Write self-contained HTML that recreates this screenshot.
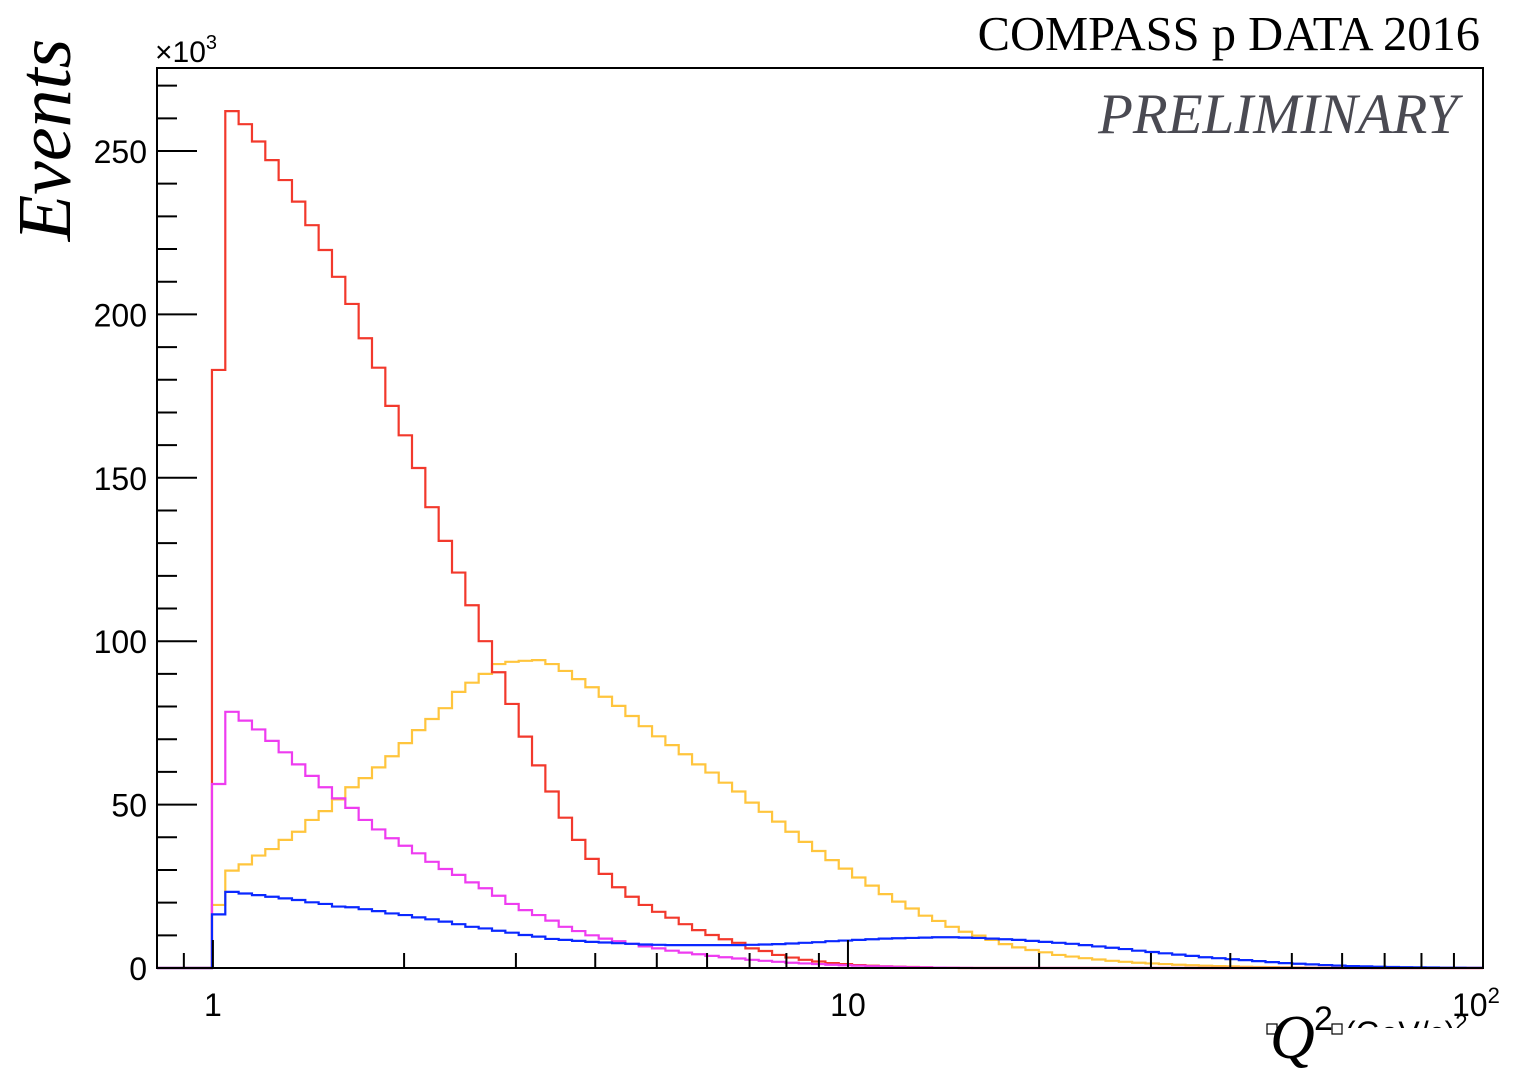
<!DOCTYPE html>
<html><head><meta charset="utf-8"><style>
html,body{margin:0;padding:0;background:#fff;}
svg{display:block;}
</style></head><body>
<svg id="chart" width="1528" height="1074" viewBox="0 0 1528 1074" xmlns="http://www.w3.org/2000/svg">
<rect x="0" y="0" width="1528" height="1074" fill="#fff"/>
<clipPath id="plotclip"><rect x="157" y="60" width="1326" height="910"/></clipPath>
<g id="series" clip-path="url(#plotclip)"></g>
<rect x="157" y="68" width="1326" height="900" fill="none" stroke="#000" stroke-width="2"/>
<g id="axes"></g>
<text x="1480" y="50" text-anchor="end" font-family="Liberation Serif, serif" font-size="48.5" fill="#000">COMPASS p DATA 2016</text>
<text x="1458" y="133" text-anchor="end" font-family="Liberation Serif, serif" font-style="italic" font-size="57" fill="#4a4a52">PRELIMINARY</text>
<text transform="translate(70,140) rotate(-90)" text-anchor="middle" font-family="Liberation Serif, serif" font-style="italic" font-size="76" fill="#000">Events</text>
<text x="155" y="62" font-family="Liberation Sans, sans-serif" font-size="30" fill="#000">×10<tspan dy="-13" font-size="20">3</tspan></text>
<g>
<rect x="1267" y="1024" width="10" height="10" fill="#fff" stroke="#000" stroke-width="1.2"/>
<rect x="1332" y="1024" width="10" height="10" fill="#fff" stroke="#000" stroke-width="1.2"/>
<text x="1270" y="1058" font-family="Liberation Serif, serif" font-style="italic" font-size="62" fill="#000">Q</text>
<text x="1314" y="1030" font-family="Liberation Sans, sans-serif" font-size="34" fill="#000">2</text>
<clipPath id="unitclip"><rect x="1340" y="990" width="150" height="38"/></clipPath>
<text x="1345" y="1044" clip-path="url(#unitclip)" font-family="Liberation Sans, sans-serif" font-size="32" fill="#000">(GeV/c)<tspan dy="-14" font-size="22">2</tspan></text>
</g>
</svg>
<script>
// bins: log10(Q2) edges start and width
const binStart = -0.0015;
const binWidth = 0.021;
const redValues = [183,262.2,258.2,252.9,247.2,241.1,234.5,227.3,219.7,211.5,203.2,192.7,183.7,172,163,153,141,130.7,121,111,100,90.5,80.8,70.8,62.0,54.0,46.0,39.2,33.4,28.8,24.7,21.8,19.3,17.2,15.4,13.4,11.6,10.1,8.8,7.7,6.0,5.2,4.0,3.2,2.5,2.0,1.5,1.2,0.9,0.7,0.5,0.4,0.3,0.2,0.1,0.05,0];
const magentaValues = [56.3,78.4,75.7,73.0,69.5,66.0,62.3,58.8,55.3,51.9,49.0,45.3,42.4,39.7,37.4,35.1,32.5,30.3,28.5,26.2,24.4,22.1,19.6,17.7,16.2,14.5,12.6,11.3,10.0,9.0,8.2,7.4,6.6,6.0,5.3,4.7,4.2,3.7,3.3,2.9,2.5,2.2,1.9,1.6,1.4,1.2,1.0,0.85,0.7,0.55,0.45,0.35,0.25,0.18,0.12,0.08,0.04,0];
const yellowValues = [19.3,29.8,31.7,34.4,36.4,39.2,41.7,45.3,48.0,51.6,55.3,58.1,61.4,64.8,68.8,72.8,76.2,79.5,84.5,87.3,90.0,93.0,93.7,94.0,94.2,93.0,90.9,88.4,85.9,83.0,80.2,77.1,74.0,70.9,68.2,65.4,62.3,59.8,56.7,54.0,50.6,47.8,44.8,41.7,38.6,35.8,33.0,30.4,27.7,25.2,22.6,20.3,18.2,16.0,14.4,12.6,11.1,9.9,8.6,7.3,6.3,5.5,4.8,4.0,3.5,3.0,2.6,2.2,1.9,1.6,1.4,1.2,1.0,0.85,0.7,0.6,0.5,0.4,0.33,0.27,0.2,0.15,0.1,0.08,0.05,0.03,0.02,0];
const blueValues = [16.4,23.3,22.8,22.3,21.8,21.3,20.8,20.1,19.6,18.8,18.6,18.0,17.4,16.7,16.2,15.5,14.9,14.2,13.4,12.6,12.1,11.4,10.8,10.1,9.6,8.9,8.6,8.3,8.0,7.8,7.6,7.4,7.2,7.1,7.0,7.0,7.0,7.0,7.0,7.0,7.1,7.2,7.3,7.5,7.7,7.9,8.2,8.4,8.6,8.8,9.0,9.1,9.2,9.3,9.4,9.4,9.3,9.2,9.0,8.8,8.6,8.3,8.0,7.7,7.4,7.0,6.6,6.2,5.8,5.3,4.9,4.5,4.1,3.7,3.3,3.0,2.7,2.4,2.1,1.8,1.5,1.3,1.1,0.9,0.75,0.6,0.5,0.4,0.3,0.25,0.2,0.15,0.1,0.08,0.05,0.03,0];
const yTicks = [0,50,100,150,200,250];
const yTickLabels = ["0","50","100","150","200","250"];
const xMajor = [1,10,100];
const xTickLabels = ["1","10",""];

const NS = "http://www.w3.org/2000/svg";
const plotL = 157, plotR = 1483, plotT = 68, plotB = 968;
const logMin = Math.log10(0.8165), logMax = 2;
function xScale(q){ return plotL + (Math.log10(q) - logMin) / (logMax - logMin) * (plotR - plotL); }
function xLog(l){ return plotL + (l - logMin) / (logMax - logMin) * (plotR - plotL); }
function yScale(v){ return plotB - v * 3.268; }

const seriesG = document.getElementById('series');
function drawHist(vals, color, name){
  let d = "M" + plotL + "," + yScale(0);
  let x0 = xLog(binStart);
  d += " L" + x0 + "," + yScale(0);
  for (let i = 0; i < vals.length; i++){
    const a = xLog(binStart + i*binWidth), b = xLog(binStart + (i+1)*binWidth);
    d += " L" + Math.min(a,plotR) + "," + yScale(vals[i]) + " L" + Math.min(b,plotR) + "," + yScale(vals[i]);
  }
  const end = xLog(binStart + vals.length*binWidth);
  d += " L" + Math.min(end,plotR) + "," + yScale(0) + " L" + plotR + "," + yScale(0);
  const p = document.createElementNS(NS, 'path');
  p.setAttribute('d', d);
  p.setAttribute('fill', 'none');
  p.setAttribute('stroke', color);
  p.setAttribute('stroke-width', '2.2');
  
  
  seriesG.appendChild(p);
}
drawHist(yellowValues, '#ffc53d', 'yellow-histogram');
drawHist(redValues, '#f2392c', 'red-histogram');
drawHist(magentaValues, '#ee3cf0', 'magenta-histogram');
drawHist(blueValues, '#0a28ff', 'blue-histogram');

const axesG = document.getElementById('axes');
function line(x1,y1,x2,y2,name){
  const l = document.createElementNS(NS,'line');
  l.setAttribute('x1',x1); l.setAttribute('y1',y1); l.setAttribute('x2',x2); l.setAttribute('y2',y2);
  l.setAttribute('stroke','#000'); l.setAttribute('stroke-width','2');
  
  
  axesG.appendChild(l);
}
function label(x,y,t,anchor,name){
  const e = document.createElementNS(NS,'text');
  e.setAttribute('x',x); e.setAttribute('y',y);
  e.setAttribute('text-anchor',anchor);
  e.setAttribute('font-family','Liberation Sans, sans-serif');
  e.setAttribute('font-size','32');
  e.textContent = t;
  
  
  axesG.appendChild(e);
}
// y ticks
for (let v = 0; v <= 270; v += 10){
  const major = v % 50 === 0;
  line(plotL, yScale(v), plotL + (major ? 40 : 20), yScale(v), major ? 'y-major-tick' : 'y-minor-tick');
}
yTicks.forEach((v,i)=>{ label(147, yScale(v)+12, yTickLabels[i], 'end', 'y-tick-label'); });
// x ticks
const minors = [0.9,2,3,4,5,6,7,8,9,20,30,40,50,60,70,80,90];
minors.forEach(q=>{ line(xScale(q), plotB, xScale(q), plotB-15, 'x-minor-tick'); });
xMajor.forEach((q,i)=>{
  line(xScale(q), plotB, xScale(q), plotB-28, 'x-major-tick');
  if (xTickLabels[i]) label(xScale(q), 1016, xTickLabels[i], 'middle', 'x-tick-label');
});
const t100 = document.createElementNS(NS,'text');
t100.setAttribute('x', 1452); t100.setAttribute('y', 1016);
t100.setAttribute('font-family','Liberation Sans, sans-serif');
t100.setAttribute('font-size','32');
t100.innerHTML = '10<tspan dy="-13" font-size="22">2</tspan>';


axesG.appendChild(t100);
</script>
</body></html>
